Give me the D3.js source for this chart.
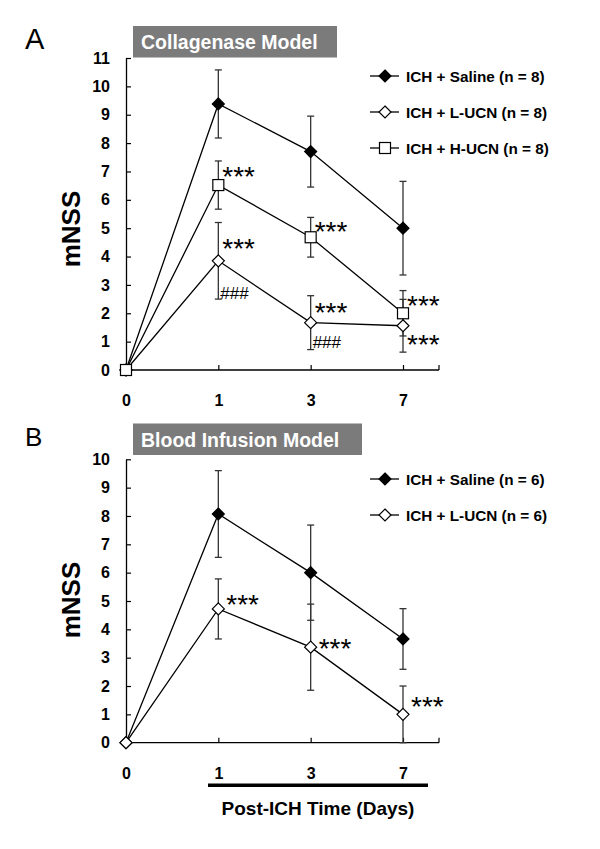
<!DOCTYPE html>
<html lang="en">
<head>
    <meta charset="UTF-8">
    <title>mNSS after ICH</title>
    <style>
        body { margin: 0; padding: 0; background: #fff; }
        svg { display: block; }
        text { font-family: "Liberation Sans", Arial, sans-serif; }
    </style>
</head>
<body>
    <svg width="600" height="849"></svg>
    <script src="https://d3js.org/d3.v7.min.js"></script>
    <script>
        // Categories (days after ICH)
        const days = ["0", "1", "3", "7"];

        // Y tick labels
        const yTicksA = [0, 1, 2, 3, 4, 5, 6, 7, 8, 9, 10, 11];
        const yTicksB = [0, 1, 2, 3, 4, 5, 6, 7, 8, 9, 10];

        // Panel A - Collagenase model (mean, error bar)
        const salineA = [0, 9.38, 7.7, 5.0];
        const salineAErr = [0, 1.2, 1.25, 1.65];
        const lucnA = [0, 3.85, 1.67, 1.56];
        const lucnAErr = [0, 1.35, 0.95, 0.93];
        const hucnA = [0, 6.52, 4.68, 2.0];
        const hucnAErr = [0, 0.85, 0.7, 0.8];

        // Panel B - Blood infusion model
        const salineB = [0, 8.07, 6.0, 3.66];
        const salineBErr = [0, 1.53, 1.68, 1.07];
        const lucnB = [0, 4.72, 3.37, 1.0];
        const lucnBErr = [0, 1.06, 1.52, 1.0];

        // Significance marks: [day, value level, text]
        const marksA = [
            ["1", 7.05, "***"], ["1", 4.52, "***"], ["1", 2.72, "###"],
            ["3", 5.11, "***"], ["3", 2.26, "***"], ["3", 1.0, "###"],
            ["7", 2.5, "***"], ["7", 1.13, "***"]
        ];
        const marksB = [
            ["1", 5.1, "***"], ["3", 3.55, "***"], ["7", 1.5, "***"]
        ];

        const svg = d3.select("svg");

        // marker shapes
        function drawMarker(g, shape, cx, cy) {
            if (shape === "square") {
                g.append("rect")
                    .attr("x", cx - 5.5).attr("y", cy - 5.5)
                    .attr("width", 11).attr("height", 11)
                    .attr("fill", "#fff").attr("stroke", "#000").attr("stroke-width", 1.2);
            } else {
                const r = 6;
                g.append("path")
                    .attr("d", `M${cx},${cy - r}L${cx + r},${cy}L${cx},${cy + r}L${cx - r},${cy}Z`)
                    .attr("fill", shape === "filled" ? "#000" : "#fff")
                    .attr("stroke", "#000").attr("stroke-width", 1.2);
            }
        }

        function drawPanel(cfg) {
            const g = svg.append("g");
            const x = d3.scalePoint().domain(days).range([126, 403]);
            const y = d3.scaleLinear().domain([0, cfg.yMax]).range([cfg.y0, cfg.yTop]);
            const xEnd = 439;

            // panel letter
            g.append("text")
                .attr("x", 25).attr("y", cfg.letterY)
                .attr("font-size", cfg.letterSize)
                .text(cfg.letter);

            // title box
            g.append("rect")
                .attr("x", 133).attr("y", cfg.boxY)
                .attr("width", cfg.boxW).attr("height", 31.5)
                .attr("fill", "#7b7b7b");
            g.append("text")
                .attr("x", 141).attr("y", cfg.boxY + 23)
                .attr("font-size", 19.5).attr("font-weight", "bold")
                .attr("fill", "#fff")
                .text(cfg.title);

            // y axis
            const yAxis = d3.axisLeft(y)
                .tickValues(cfg.yTicks)
                .tickSize(-5)
                .tickSizeOuter(0)
                .tickPadding(16);
            const ya = g.append("g").attr("transform", "translate(126,0)").call(yAxis);
            ya.select(".domain").attr("stroke-width", 1.3);
            ya.selectAll(".tick line").attr("stroke-width", 1.2);
            ya.selectAll(".tick text")
                .attr("font-size", 16).attr("font-weight", "bold")
                .attr("font-family", "Liberation Sans, Arial, sans-serif")
                .attr("fill", "#000");

            // x axis
            const xAxis = d3.axisBottom(x).tickSize(-5).tickSizeOuter(0).tickPadding(25);
            const xa = g.append("g").attr("transform", `translate(0,${cfg.y0})`).call(xAxis);
            xa.select(".domain").remove();
            xa.selectAll(".tick line").attr("stroke-width", 1.2)
                .filter(d => d === "0").remove();
            xa.selectAll(".tick text")
                .attr("font-size", 16).attr("font-weight", "bold")
                .attr("font-family", "Liberation Sans, Arial, sans-serif")
                .attr("fill", "#000");
            g.append("line")
                .attr("x1", 126).attr("x2", xEnd)
                .attr("y1", cfg.y0).attr("y2", cfg.y0)
                .attr("stroke", "#000").attr("stroke-width", 1.3);
            g.append("line")
                .attr("x1", xEnd).attr("x2", xEnd)
                .attr("y1", cfg.y0).attr("y2", cfg.y0 - 5)
                .attr("stroke", "#000").attr("stroke-width", 1.2);

            // y label
            g.append("text")
                .attr("transform", `translate(80,${cfg.labelY}) rotate(-90)`)
                .attr("text-anchor", "middle")
                .attr("font-size", 26).attr("font-weight", "bold")
                .text("mNSS");

            const line = d3.line().x((d, i) => x(days[i])).y(d => y(d));

            // connecting lines
            cfg.series.forEach(s => {
                g.append("path")
                    .datum(s.values)
                    .attr("d", line)
                    .attr("fill", "none")
                    .attr("stroke", "#000")
                    .attr("stroke-width", 1.3);
            });

            // error bars
            cfg.series.forEach(s => {
                s.values.forEach((v, i) => {
                    const e = s.err[i];
                    if (!e) return;
                    const cx = x(days[i]);
                    const lo = y(Math.max(0, v - e)), hi = y(v + e);
                    const eg = g.append("g").attr("stroke", "#333").attr("stroke-width", 1.3);
                    eg.append("line").attr("x1", cx).attr("x2", cx).attr("y1", hi).attr("y2", lo);
                    eg.append("line").attr("x1", cx - 3.5).attr("x2", cx + 3.5).attr("y1", hi).attr("y2", hi);
                    eg.append("line").attr("x1", cx - 3.5).attr("x2", cx + 3.5).attr("y1", lo).attr("y2", lo);
                });
            });

            // markers
            cfg.series.forEach(s => {
                s.values.forEach((v, i) => drawMarker(g, s.shape, x(days[i]), y(v)));
            });

            // significance marks
            cfg.marks.forEach(m => {
                const stars = m[2] === "***";
                g.append("text")
                    .attr("x", x(m[0]) + (stars ? cfg.starDx : 2))
                    .attr("y", y(m[1]) + (stars ? 16 : 6))
                    .attr("font-size", stars ? 28 : 17)
                    .attr("font-family", stars ? "Liberation Sans, Arial, sans-serif" : "Liberation Serif, Times New Roman, serif")
                    .text(m[2]);
            });

            // legend
            cfg.series.forEach((s, i) => {
                const ly = cfg.legendY + i * cfg.legendStep;
                g.append("line")
                    .attr("x1", 370).attr("x2", 399)
                    .attr("y1", ly).attr("y2", ly)
                    .attr("stroke", "#000").attr("stroke-width", 1.3);
                drawMarker(g, s.shape, 385, ly);
                g.append("text")
                    .attr("x", 406).attr("y", ly + 5.5)
                    .attr("font-size", 15.3).attr("font-weight", "bold")
                    .text(s.name);
            });
        }

        drawPanel({
            letter: "A", letterY: 49, letterSize: 29,
            title: "Collagenase Model", boxY: 26, boxW: 204,
            yMax: 11, y0: 370, yTop: 58, yTicks: yTicksA, labelY: 229,
            starDx: 4,
            legendY: 76, legendStep: 36,
            marks: marksA,
            series: [
                { name: "ICH + Saline (n = 8)", shape: "filled", values: salineA, err: salineAErr },
                { name: "ICH + L-UCN (n = 8)", shape: "open", values: lucnA, err: lucnAErr },
                { name: "ICH + H-UCN (n = 8)", shape: "square", values: hucnA, err: hucnAErr }
            ]
        });

        drawPanel({
            letter: "B", letterY: 446, letterSize: 26,
            title: "Blood Infusion Model", boxY: 423.5, boxW: 229,
            yMax: 10, y0: 742.7, yTop: 459.3, yTicks: yTicksB, labelY: 600,
            starDx: 8,
            legendY: 479, legendStep: 36,
            marks: marksB,
            series: [
                { name: "ICH + Saline (n = 6)", shape: "filled", values: salineB, err: salineBErr },
                { name: "ICH + L-UCN (n = 6)", shape: "open", values: lucnB, err: lucnBErr }
            ]
        });

        // time bar and x label under panel B
        svg.append("rect")
            .attr("x", 208).attr("y", 783.5)
            .attr("width", 220).attr("height", 3.5)
            .attr("fill", "#000");
        svg.append("text")
            .attr("x", 318).attr("y", 815)
            .attr("text-anchor", "middle")
            .attr("font-size", 19).attr("font-weight", "bold")
            .text("Post-ICH Time (Days)");
    </script>
</body>
</html>
